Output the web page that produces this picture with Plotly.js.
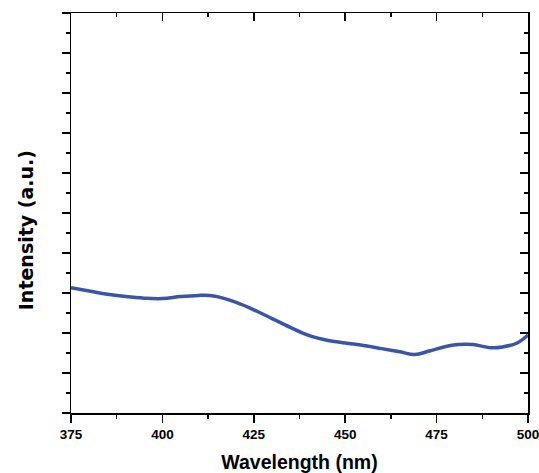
<!DOCTYPE html>
<html>
<head>
<meta charset="utf-8">
<script src="https://cdn.plot.ly/plotly-3.0.1.min.js"></script>
<style>html,body{margin:0;padding:0;background:#fff;}#chart{width:539px;height:473px;}</style>
</head>
<body>
<div id="chart"></div>
<script>
const wavelength = [375, 380, 385, 390, 395, 400, 405, 410, 413, 415, 420, 425, 430, 435, 440, 445, 450, 455, 460, 465, 469, 473, 477, 481, 485, 488, 490, 493, 497, 500];
const intensity = [3.13, 3.05, 2.97, 2.91, 2.87, 2.86, 2.91, 2.94, 2.94, 2.91, 2.77, 2.58, 2.36, 2.14, 1.94, 1.82, 1.75, 1.69, 1.61, 1.53, 1.46, 1.55, 1.65, 1.71, 1.71, 1.66, 1.63, 1.65, 1.75, 1.95];
const xTicks = [375, 400, 425, 450, 475, 500];
const xRange = [375, 500];
const yRange = [0, 10];
const xTitle = 'Wavelength (nm)';
const yTitle = 'Intensity (a.u.)';

const tickFont = {family: 'Liberation Sans, Arial, sans-serif', size: 13.5, color: '#000', weight: 'bold'};

const data = [{
  x: wavelength, y: intensity, type: 'scatter', mode: 'lines',
  line: {color: '#3a54a6', width: 3.5, shape: 'spline', smoothing: 1.1},
  hoverinfo: 'skip'
}, {
  x: wavelength, y: intensity, type: 'scatter', mode: 'lines',
  xaxis: 'x2', yaxis: 'y2', opacity: 0,
  line: {width: 1}, hoverinfo: 'skip'
}];

const axLine = {showline: true, linecolor: '#000', linewidth: 1.5, showgrid: false, zeroline: false};

const layout = {
  width: 539, height: 473,
  margin: {l: 71, r: 11, t: 13, b: 60},
  paper_bgcolor: '#fff', plot_bgcolor: '#fff',
  showlegend: false,
  xaxis: Object.assign({
    range: xRange, tickmode: 'array', tickvals: xTicks, ticktext: xTicks.map(String),
    ticklabeloverflow: 'allow',
    ticks: 'outside', ticklen: 8, tickwidth: 1.5, tickcolor: '#000',
    minor: {ticks: 'outside', ticklen: 4, tickwidth: 1.5, tickcolor: '#000', dtick: 12.5, tick0: 375, showgrid: false},
    tickfont: tickFont,
    title: {text: xTitle, font: {family: 'Liberation Sans, Arial, sans-serif', size: 19.5, color: '#000', weight: 'bold'}, standoff: 20}
  }, axLine),
  xaxis2: Object.assign({
    overlaying: 'x', side: 'top', anchor: 'y2', range: xRange,
    tickmode: 'linear', tick0: xRange[0], dtick: 25,
    ticks: 'inside', ticklen: 8, tickwidth: 1.5, tickcolor: '#000',
    minor: {ticks: 'inside', ticklen: 4, tickwidth: 1.5, tickcolor: '#000', dtick: 12.5, tick0: 375, showgrid: false},
    showticklabels: false
  }, axLine),
  yaxis: Object.assign({
    range: yRange, dtick: 1, tick0: 0,
    ticks: 'outside', ticklen: 8, tickwidth: 1.5, tickcolor: '#000',
    minor: {ticks: 'outside', ticklen: 4, tickwidth: 1.5, tickcolor: '#000', dtick: 0.5, tick0: 0, showgrid: false},
    showticklabels: false
  }, axLine),
  yaxis2: Object.assign({
    overlaying: 'y', side: 'right', anchor: 'x2', range: yRange, dtick: 1, tick0: 0,
    ticks: 'inside', ticklen: 8, tickwidth: 1.5, tickcolor: '#000',
    minor: {ticks: 'inside', ticklen: 4, tickwidth: 1.5, tickcolor: '#000', dtick: 0.5, tick0: 0, showgrid: false},
    showticklabels: false
  }, axLine),
  annotations: [{
    text: yTitle, xref: 'paper', yref: 'paper', x: -0.098, y: 0.4575,
    xanchor: 'center', yanchor: 'middle', textangle: -90, showarrow: false,
    font: {family: 'DejaVu Sans, sans-serif', size: 19, color: '#000', weight: 'bold'}
  }]
};

Plotly.newPlot('chart', data, layout, {displayModeBar: false, staticPlot: true});
</script>
</body>
</html>
